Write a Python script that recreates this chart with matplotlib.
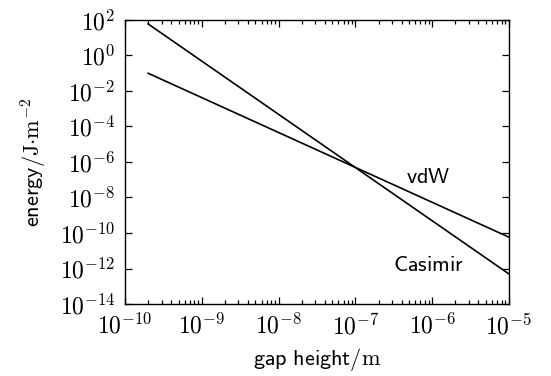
import matplotlib
matplotlib.use("Agg")
import matplotlib.pyplot as plt
from matplotlib.ticker import LogLocator, NullLocator, FixedLocator

plt.rcParams['mathtext.fontset'] = 'cm'
plt.rcParams['font.family'] = ['DejaVu Sans']

gap = [2e-10, 1e-5]
vdw = [1.0e-1, 5.8e-11]
casimir = [6.0e1, 4.9e-13]
xticks = [1e-10, 1e-9, 1e-8, 1e-7, 1e-6, 1e-5]
yticks = [1e-14, 1e-12, 1e-10, 1e-8, 1e-6, 1e-4, 1e-2, 1e0, 1e2]

fig = plt.figure(figsize=(5.51, 3.76), dpi=100)
ax = fig.add_axes([125/551, 1-304/376, 384/551, 284/376])
ax.plot(gap, vdw, color='black', lw=1.2)
ax.plot(gap, casimir, color='black', lw=1.2)
ax.set_xscale('log')
ax.set_yscale('log')
ax.set_xlim(1e-10, 1e-5)
ax.set_ylim(1e-14, 1e2)
ax.xaxis.set_major_locator(FixedLocator(xticks))
ax.yaxis.set_major_locator(FixedLocator(yticks))
ax.xaxis.set_minor_locator(LogLocator(base=10, subs=range(2, 10), numticks=20))
ax.yaxis.set_minor_locator(NullLocator())
ax.set_xticklabels([r'$10^{%d}$' % e for e in range(-10, -4)])
ax.set_yticklabels([r'$10^{%d}$' % e for e in range(-14, 3, 2)])
ax.tick_params(which='both', direction='in', top=True, right=True, labelsize=17, width=0.9)
ax.tick_params(which='major', length=5, pad=7)
ax.tick_params(which='minor', length=3)
for s in ax.spines.values():
    s.set_linewidth(1.0)
ax.set_xlabel(r'$\mathsf{gap\ height}/\mathrm{m}$', fontsize=16, labelpad=5)
ax.set_ylabel(r'$\mathsf{energy}/\mathrm{J{\cdot}m^{-2}}$', fontsize=16, labelpad=8)
ax.text(8.8e-7, 10**-6.85, r'$\mathsf{vdW}$', fontsize=16, ha='center', va='center')
ax.text(8.9e-7, 10**-11.8, r'$\mathsf{Casimir}$', fontsize=16, ha='center', va='center')
fig.savefig('out.png', dpi=100)
